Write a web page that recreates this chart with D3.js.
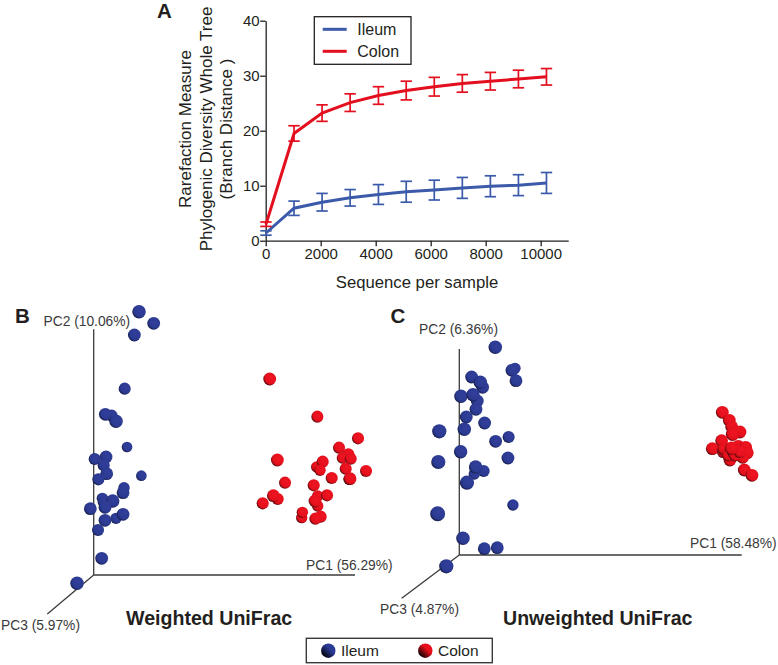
<!DOCTYPE html>
<html><head><meta charset="utf-8">
<script src="https://cdn.jsdelivr.net/npm/d3@7"></script>
<style>html,body{margin:0;padding:0;background:#fff}svg{display:block}text{font-family:"Liberation Sans",Arial,sans-serif}</style>
</head><body><svg id="c" width="778" height="665"></svg>
<script>
// Panel A: rarefaction
const seqDepth=[10,1030,2050,3070,4100,5110,6130,7150,8170,9190,10210];
const colonMean=[3,19.5,23.2,25.1,26.4,27.3,28,28.6,29,29.4,29.8];
const colonErr=[0.4,1.4,1.5,1.6,1.6,1.7,1.7,1.6,1.6,1.6,1.5];
const ileumMean=[1.4,5.9,7,7.8,8.4,8.9,9.2,9.6,9.9,10.1,10.5];
const ileumErr=[0.4,1.3,1.6,1.5,1.8,1.9,1.8,1.9,1.9,1.9,1.9];
const xTicks=[0,2000,4000,6000,8000,10000];
const yTicks=[0,10,20,30,40];
// Panels B, C: [PC1, PC2, PC3] in plot units
const bIleum=[[136,790,19],[180,755,18],[122,720,18],[93,559,17],[54,478,17],[35,482,18],[67,461,19],[100,384,15],[37,354,18],[3,348,17],[30,329,17],[39,304,18],[14,287,17],[143,298,15],[91,262,16],[88,247,18],[26,230,16],[29,218,16],[57,222,19],[34,203,18],[-10,199,18],[67,170,16],[88,182,18],[34,164,18],[13,135,17],[24,50,18],[-50,-25,19]];
const bColon=[[528,588,18],[671,475,17],[793,410,17],[736,382,17],[764,362,17],[746,351,16],[771,349,17],[551,345,18],[669,324,16],[687,340,17],[679,314,16],[756,319,17],[817,312,17],[714,291,17],[766,287,16],[769,289,18],[574,277,17],[660,269,17],[672,237,16],[700,239,17],[552,228,17],[539,238,18],[507,215,17],[672,207,16],[664,222,18],[624,172,16],[626,188,16],[681,175,17],[665,169,17]];
const cIleum=[[108,623,19],[167,560,16],[158,554,18],[170,523,18],[37,534,18],[70,503,18],[63,518,19],[5,476,19],[54,462,18],[41,481,19],[50,437,18],[21,414,18],[76,396,18],[15,377,19],[-60,371,20],[148,354,17],[109,341,18],[4,310,19],[-63,279,20],[146,291,18],[73,252,17],[45,243,16],[49,264,19],[23,217,20],[161,150,16],[-65,124,21],[11,50,19],[75,19,18],[114,22,18],[-39,-34,20]];
const cColon=[[789,428,18],[810,404,18],[817,385,18],[842,369,18],[829,370,18],[820,362,19],[787,343,18],[759,319,18],[792,310,18],[795,318,19],[812,285,18],[807,300,18],[822,310,18],[837,325,19],[859,323,18],[864,307,18],[850,293,18],[827,300,18],[842,310,18],[817,320,19],[855,255,18],[878,239,18]];
const seriesNames=["Ileum","Colon"];

const svg=d3.select("#c");
const BLUE="#3b5aa9",RED="#e30f1e",INK="#231f20",GREY="#3a3a3a";
const defs=svg.append("defs");
function sphere(id,c0,c1,c2){
  const g=defs.append("radialGradient").attr("id",id).attr("cx","0.6").attr("cy","0.4").attr("r","0.66");
  g.append("stop").attr("offset","0").attr("stop-color",c0);
  g.append("stop").attr("offset","0.7").attr("stop-color",c1);
  g.append("stop").attr("offset","1").attr("stop-color",c2);
}
sphere("ball-blue","#323f9c","#2b3a90","#10153a");
sphere("ball-red","#f01522","#e3101c","#3a0608");
const lg=defs.append("linearGradient").attr("id","leg-blue").attr("x1","0.85").attr("y1","0.1").attr("x2","0.1").attr("y2","0.85");
lg.append("stop").attr("offset","0.35").attr("stop-color","#2b3a95");lg.append("stop").attr("offset","1").attr("stop-color","#000");
const lr=defs.append("linearGradient").attr("id","leg-red").attr("x1","0.85").attr("y1","0.1").attr("x2","0.1").attr("y2","0.85");
lr.append("stop").attr("offset","0.35").attr("stop-color","#e8101c");lr.append("stop").attr("offset","1").attr("stop-color","#000");

// ---- Panel A
const x=d3.scaleLinear().domain([0,11000]).range([265.7,568.2]);
const y=d3.scaleLinear().domain([0,40]).range([240.7,20.7]);
const gx=svg.append("g").attr("transform",`translate(0,${y(0)})`).call(d3.axisBottom(x).tickValues(xTicks).tickFormat(d3.format("d")).tickSize(5.5).tickSizeOuter(0));
const gy=svg.append("g").attr("transform",`translate(${x(0)},0)`).call(d3.axisLeft(y).tickValues(yTicks).tickSize(5.5).tickSizeOuter(0));
[gx,gy].forEach(g=>{g.selectAll("path,line").attr("stroke",INK).attr("stroke-width",1.3);
  g.selectAll("text").attr("fill",INK).style("font-size","15px").style("font-family",'"Liberation Sans"');});
gx.selectAll("text").attr("y",8);
gy.selectAll("text").attr("x",-6);

function series(mean,err,color){
  const g=svg.append("g");
  g.append("path").datum(seqDepth.map((d,i)=>[d,mean[i]])).attr("fill","none").attr("stroke",color).attr("stroke-width",3)
    .attr("d",d3.line().x(d=>x(d[0])).y(d=>y(d[1])));
  const bars=g.selectAll("g.e").data(seqDepth.map((d,i)=>({d,m:mean[i],e:err[i]}))).join("g").attr("class","e").attr("stroke",color).attr("stroke-width",1.7);
  bars.append("line").attr("x1",d=>x(d.d)).attr("x2",d=>x(d.d)).attr("y1",d=>y(d.m-d.e)).attr("y2",d=>y(d.m+d.e));
  [-1,1].forEach(s=>bars.append("line").attr("x1",d=>x(d.d)-5.7).attr("x2",d=>x(d.d)+5.7).attr("y1",d=>y(d.m+s*d.e)).attr("y2",d=>y(d.m+s*d.e)));
}
series(ileumMean,ileumErr,BLUE);
series(colonMean,colonErr,RED);

svg.append("text").attr("x",417).attr("y",288).attr("text-anchor","middle").attr("fill",INK).style("font-size","16.7px").text("Sequence per sample");
[["Rarefaction Measure",190.5],["Phylogenic Diversity Whole Tree",211.5],["(Branch Distance )",232]].forEach(([t,px])=>{
  svg.append("text").attr("transform",`translate(${px},129) rotate(-90)`).attr("text-anchor","middle").attr("fill",INK).style("font-size","17px").text(t);
});
svg.append("rect").attr("x",314.3).attr("y",16.7).attr("width",96.7).attr("height",47.6).attr("fill","#fff").attr("stroke",INK).attr("stroke-width",1.3);
seriesNames.forEach((n,i)=>{
  const ly=29.3+i*22;
  svg.append("line").attr("x1",322.7).attr("x2",346.7).attr("y1",ly).attr("y2",ly).attr("stroke",i?RED:BLUE).attr("stroke-width",3);
  svg.append("text").attr("x",357.3).attr("y",ly+5.8).attr("fill",INK).style("font-size","16px").text(n);
});

// ---- 3D panels
function panel(o){
  const px=d3.scaleLinear().domain([0,784]).range([o.x0,o.x0+784/3]);
  const py=d3.scaleLinear().domain([0,737]).range([o.y0,o.y0-737/3]);
  const pr=d3.scaleLinear().domain([0,18]).range([0,6.4]);
  const g=svg.append("g");
  const ax=[[o.x0,o.y0,o.xEnd,o.y0],[o.x0,o.y0,o.x0,o.yEnd],[o.x0,o.y0,o.zx,o.zy]];
  ax.forEach(a=>g.append("line").attr("x1",a[0]).attr("y1",a[1]).attr("x2",a[2]).attr("y2",a[3]).attr("stroke",GREY).attr("stroke-width",1.3));
  o.labels.forEach(l=>g.append("text").attr("x",l[1]).attr("y",l[2]).attr("fill","#3a3a3a").style("font-size","13.8px").text(l[0]));
  [[o.ileum,"url(#ball-blue)"],[o.colon,"url(#ball-red)"]].forEach(([pts,fill])=>{
    g.append("g").selectAll("circle").data(pts).join("circle").attr("cx",d=>px(d[0])).attr("cy",d=>py(d[1])).attr("r",d=>pr(d[2])).attr("fill",fill);
  });
  svg.append("text").attr("x",o.title[1]).attr("y",625).attr("fill",INK).style("font-size","19.6px").style("font-weight","700").text(o.title[0]);
}
panel({x0:93.7,y0:575,xEnd:355,yEnd:329.3,zx:47.3,zy:614,ileum:bIleum,colon:bColon,
  labels:[["PC2 (10.06%)",43.5,326],["PC1 (56.29%)",306,570],["PC3 (5.97%)",1,630]],title:["Weighted UniFrac",126]});
panel({x0:459.3,y0:555,xEnd:741.7,yEnd:349,zx:401.7,zy:598.3,ileum:cIleum,colon:cColon,
  labels:[["PC2 (6.36%)",419,334],["PC1 (58.48%)",690,548],["PC3 (4.87%)",380,614]],title:["Unweighted UniFrac",503]});

// panel letters
[["A",157,18.4],["B",15,323],["C",390.5,323]].forEach(l=>svg.append("text").attr("x",l[1]).attr("y",l[2]).attr("fill",INK).style("font-size","20.5px").style("font-weight","700").text(l[0]));

// bottom legend
svg.append("rect").attr("x",306.3).attr("y",638.3).attr("width",186).attr("height",24.4).attr("fill","#fff").attr("stroke",GREY).attr("stroke-width",1.4);
[[seriesNames[0],328.3,341,"url(#leg-blue)"],[seriesNames[1],425.3,438,"url(#leg-red)"]].forEach(l=>{
  svg.append("circle").attr("cx",l[1]).attr("cy",650.7).attr("r",7.2).attr("fill",l[3]);
  svg.append("text").attr("x",l[2]).attr("y",656).attr("fill",INK).style("font-size","15.5px").text(l[0]);
});
</script></body></html>
